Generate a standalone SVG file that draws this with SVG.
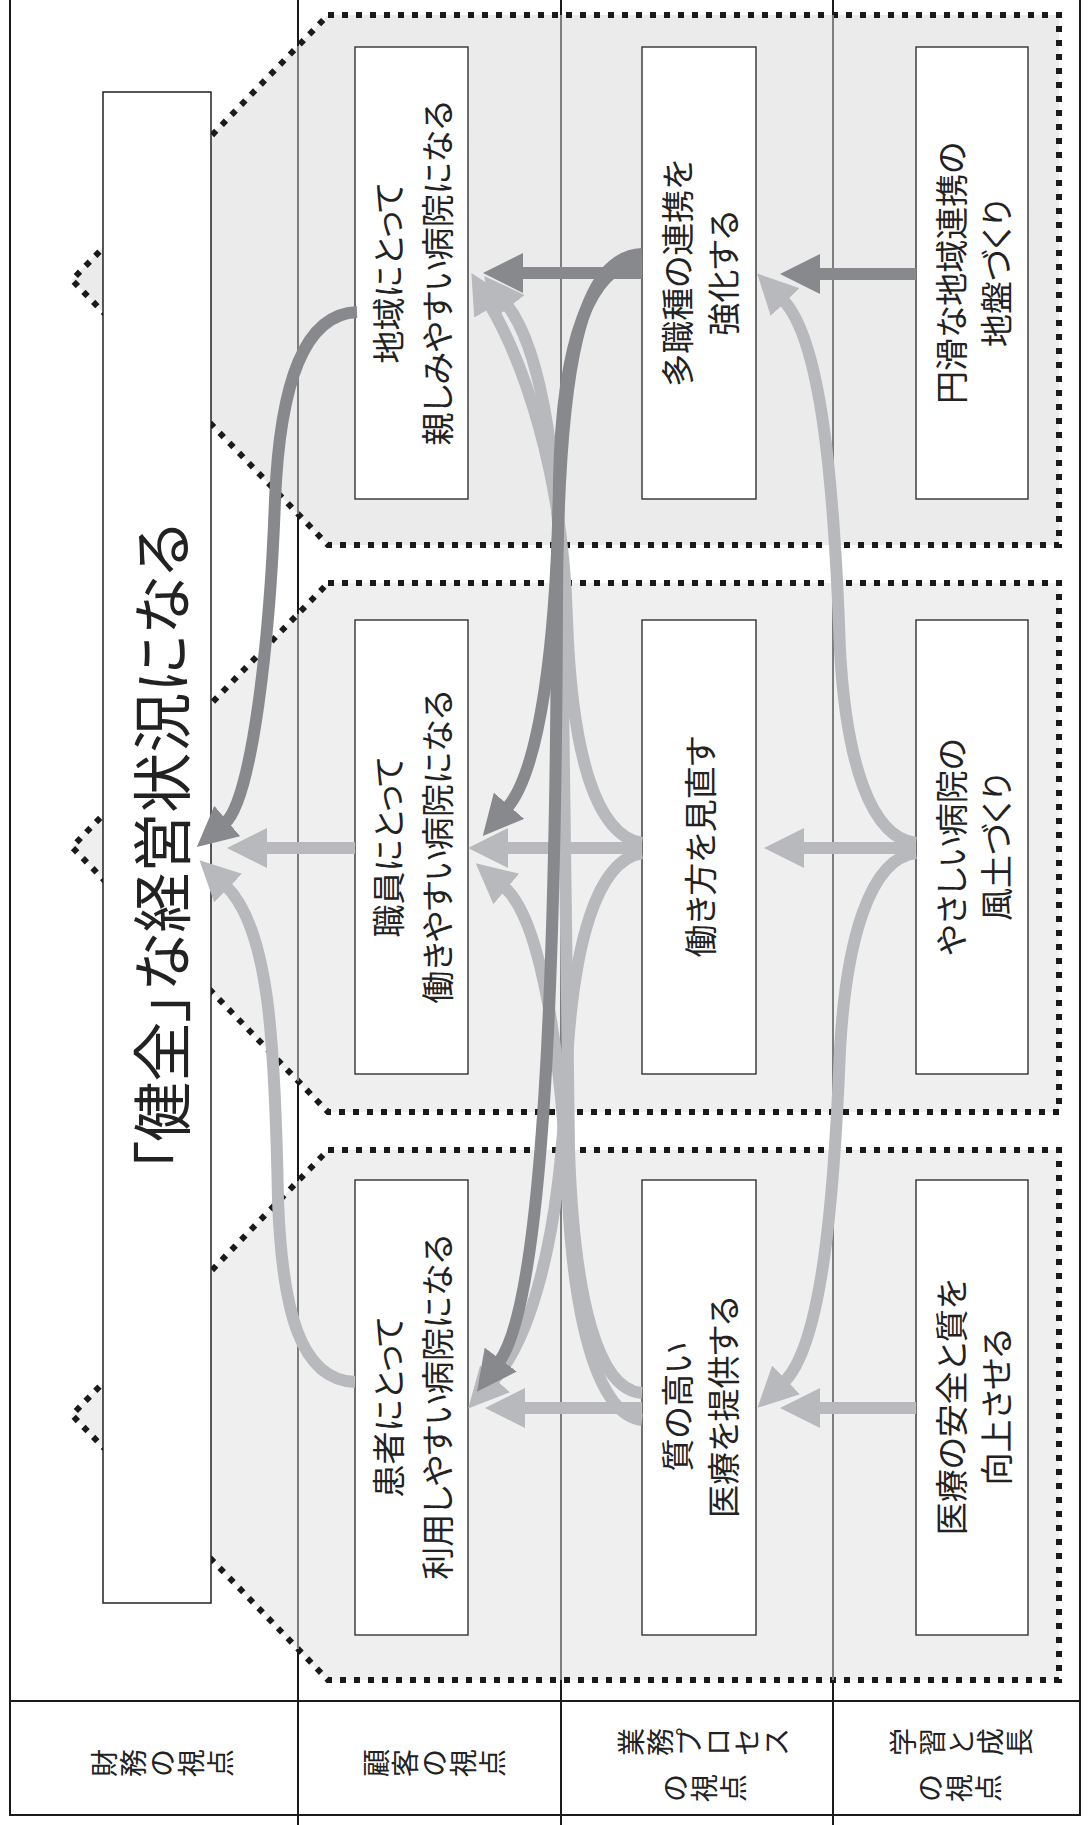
<svg xmlns="http://www.w3.org/2000/svg" width="1088" height="1825" viewBox="0 0 1088 1825">
<style>
.t{font-family:"Noto Sans CJK JP","Noto Sans CJK SC",sans-serif;fill:#222;font-feature-settings:"palt";text-anchor:middle;dominant-baseline:central}
.nt{font-size:33px}
.hd{font-size:28px;font-feature-settings:normal}
.title{font-size:60px}
.panel{stroke:#1a1a1a;stroke-width:6;stroke-dasharray:6 8}
.box{fill:#fff;stroke:#333;stroke-width:1.4}
.blk{stroke:#1a1a1a;stroke-width:2;fill:none}
.gry{stroke:#7d7d7d;stroke-width:2;fill:none}
.dk{stroke:#88898d}
.lt{stroke:#b8b9bc}
</style>
<defs>
<marker id="ahD" viewBox="0 0 40 40" refX="3" refY="20" markerWidth="40" markerHeight="40" markerUnits="userSpaceOnUse" orient="auto"><path d="M0,0 L40,20 L0,40 Z" fill="#88898d"/></marker>
<marker id="ahL" viewBox="0 0 40 40" refX="3" refY="20" markerWidth="40" markerHeight="40" markerUnits="userSpaceOnUse" orient="auto"><path d="M0,0 L40,20 L0,40 Z" fill="#b8b9bc"/></marker>
</defs>
<rect width="1088" height="1825" fill="#fff"/>

<g id="panels">
<polygon class="panel" fill="#ebebec" points="328,15 1059,15 1059,545 328,545 72,280"/>
<polygon class="panel" fill="#efefef" points="328,583 1059,583 1059,1112 328,1112 72,847"/>
<polygon class="panel" fill="#efefef" points="328,1150 1059,1150 1059,1680 328,1680 72,1415"/>
</g>

<g id="frame">
<line class="blk" x1="10" y1="0" x2="10" y2="1816"/>
<line class="blk" x1="1080" y1="0" x2="1080" y2="1816"/>
<line class="blk" x1="298" y1="0" x2="298" y2="1825"/>
<line class="gry" x1="298" y1="46" x2="298" y2="514"/>
<line class="gry" x1="298" y1="614" x2="298" y2="1081"/>
<line class="gry" x1="298" y1="1181" x2="298" y2="1649"/>
<line class="blk" x1="561" y1="0" x2="561" y2="15"/>
<line class="gry" x1="561" y1="15" x2="561" y2="1680"/>
<line class="blk" x1="561" y1="1680" x2="561" y2="1825"/>
<line class="blk" x1="833" y1="0" x2="833" y2="15"/>
<line class="gry" x1="833" y1="15" x2="833" y2="1680"/>
<line class="blk" x1="833" y1="1680" x2="833" y2="1825"/>
<line class="blk" x1="10" y1="1701" x2="1080" y2="1701" stroke-width="2.5"/>
<line class="blk" x1="10" y1="1815" x2="1080" y2="1815" stroke-width="2.5"/>
</g>

<g id="node-title">
<rect x="103" y="92" width="108" height="1511" fill="#fff" stroke="#222" stroke-width="1.5"/>
<text class="t title" transform="translate(158,847) rotate(-90)">「健全」な経営状況になる</text>
</g>

<g id="headers">
<g id="h-zaimu">
<text class="t hd" x="103" y="1763" transform="rotate(-90 103 1763)">財</text>
<text class="t hd" x="132" y="1763" transform="rotate(-90 132 1763)">務</text>
<text class="t hd" x="161" y="1763" transform="rotate(-90 161 1763)">の</text>
<text class="t hd" x="190" y="1763" transform="rotate(-90 190 1763)">視</text>
<text class="t hd" x="219" y="1763" transform="rotate(-90 219 1763)">点</text>
</g>
<g id="h-kokyaku">
<text class="t hd" x="375" y="1763" transform="rotate(-90 375 1763)">顧</text>
<text class="t hd" x="404" y="1763" transform="rotate(-90 404 1763)">客</text>
<text class="t hd" x="433" y="1763" transform="rotate(-90 433 1763)">の</text>
<text class="t hd" x="462" y="1763" transform="rotate(-90 462 1763)">視</text>
<text class="t hd" x="491" y="1763" transform="rotate(-90 491 1763)">点</text>
</g>
<g id="h-gyomu">
<text class="t hd" x="629.5" y="1742" transform="rotate(-90 629.5 1742)">業</text>
<text class="t hd" x="658.5" y="1742" transform="rotate(-90 658.5 1742)">務</text>
<text class="t hd" x="687.5" y="1742" transform="rotate(-90 687.5 1742)">プ</text>
<text class="t hd" x="716.5" y="1742" transform="rotate(-90 716.5 1742)">ロ</text>
<text class="t hd" x="745.5" y="1742" transform="rotate(-90 745.5 1742)">セ</text>
<text class="t hd" x="774.5" y="1742" transform="rotate(-90 774.5 1742)">ス</text>
<text class="t hd" x="674" y="1788" transform="rotate(-90 674 1788)">の</text>
<text class="t hd" x="703" y="1788" transform="rotate(-90 703 1788)">視</text>
<text class="t hd" x="732" y="1788" transform="rotate(-90 732 1788)">点</text>
</g>
<g id="h-gakushu">
<text class="t hd" x="902" y="1742" transform="rotate(-90 902 1742)">学</text>
<text class="t hd" x="931" y="1742" transform="rotate(-90 931 1742)">習</text>
<text class="t hd" x="960" y="1742" transform="rotate(-90 960 1742)">と</text>
<text class="t hd" x="989" y="1742" transform="rotate(-90 989 1742)">成</text>
<text class="t hd" x="1018" y="1742" transform="rotate(-90 1018 1742)">長</text>
<text class="t hd" x="929" y="1788" transform="rotate(-90 929 1788)">の</text>
<text class="t hd" x="958" y="1788" transform="rotate(-90 958 1788)">視</text>
<text class="t hd" x="987" y="1788" transform="rotate(-90 987 1788)">点</text>
</g>
</g>

<g id="nodes">
<g id="n-chiiki"><rect class="box" x="355" y="47" width="113" height="452"/>
<text class="t nt" transform="translate(387,273) rotate(-90)">地域にとって</text>
<text class="t nt" transform="translate(436,273) rotate(-90)">親しみやすい病院になる</text></g>
<g id="n-shokuin"><rect class="box" x="355" y="620" width="113" height="454"/>
<text class="t nt" transform="translate(387,847) rotate(-90)">職員にとって</text>
<text class="t nt" transform="translate(436,847) rotate(-90)">働きやすい病院になる</text></g>
<g id="n-kanja"><rect class="box" x="355" y="1180" width="113" height="455"/>
<text class="t nt" transform="translate(387,1407) rotate(-90)">患者にとって</text>
<text class="t nt" transform="translate(436,1407) rotate(-90)">利用しやすい病院になる</text></g>
<g id="n-tashokushu"><rect class="box" x="642" y="47" width="114" height="452"/>
<text class="t nt" transform="translate(676,273) rotate(-90)">多職種の連携を</text>
<text class="t nt" transform="translate(722,273) rotate(-90)">強化する</text></g>
<g id="n-hatarakikata"><rect class="box" x="642" y="620" width="114" height="454"/>
<text class="t nt" transform="translate(699,847) rotate(-90)">働き方を見直す</text></g>
<g id="n-shitsu"><rect class="box" x="642" y="1180" width="114" height="455"/>
<text class="t nt" transform="translate(676,1407) rotate(-90)">質の高い</text>
<text class="t nt" transform="translate(722,1407) rotate(-90)">医療を提供する</text></g>
<g id="n-enkatsu"><rect class="box" x="916" y="47" width="112" height="452"/>
<text class="t nt" transform="translate(950,273) rotate(-90)">円滑な地域連携の</text>
<text class="t nt" transform="translate(995,273) rotate(-90)">地盤づくり</text></g>
<g id="n-yasashii"><rect class="box" x="916" y="620" width="112" height="454"/>
<text class="t nt" transform="translate(950,847) rotate(-90)">やさしい病院の</text>
<text class="t nt" transform="translate(995,847) rotate(-90)">風土づくり</text></g>
<g id="n-anzen"><rect class="box" x="916" y="1180" width="112" height="455"/>
<text class="t nt" transform="translate(950,1407) rotate(-90)">医療の安全と質を</text>
<text class="t nt" transform="translate(995,1407) rotate(-90)">向上させる</text></g>
</g>

<g id="connectors" fill="none" stroke-width="12">
<g class="lt" marker-end="url(#ahL)">
<path d="M642,848 H505"/>
<path d="M916,848 H801"/>
<path d="M355,848 H264"/>
<path d="M916,1408 H817"/>
<path d="M642,1408 H522"/>
<path d="M355,1382 C300,1380 282,1310 278,1200 C275,1040 269,928 226,886"/>
<path d="M642,843 C598,836 572,760 567,620 C563,470 522,360 490,305"/>
<path d="M642,1393 C598,1390 574,1300 569,1150 L562,620 C560,480 544,352 507,305"/>
<path d="M642,1420 C600,1415 575,1330 568,1200 C562,1060 542,919 504,887"/>
<path d="M642,853 C598,860 572,940 566,1080 C560,1240 530,1340 493,1381"/>
<path d="M916,843 C870,838 846,760 840,650 C834,480 821,339 783,300"/>
<path d="M916,853 C870,858 846,940 840,1050 C834,1200 822,1345 784,1382"/>
</g>
<g class="dk" marker-end="url(#ahD)">
<path d="M916,274 H817"/>
<path d="M642,273 H520"/>
<path d="M642,261 C590,264 562,340 559,480 C557,640 540,770 507,808"/>
<path d="M642,254 C582,257 558,360 557,600 C556,950 545,1300 499,1362"/>
<path d="M357,312 C305,314 280,380 275,500 C270,640 252,800 225,823"/>
</g>
</g>
</svg>
